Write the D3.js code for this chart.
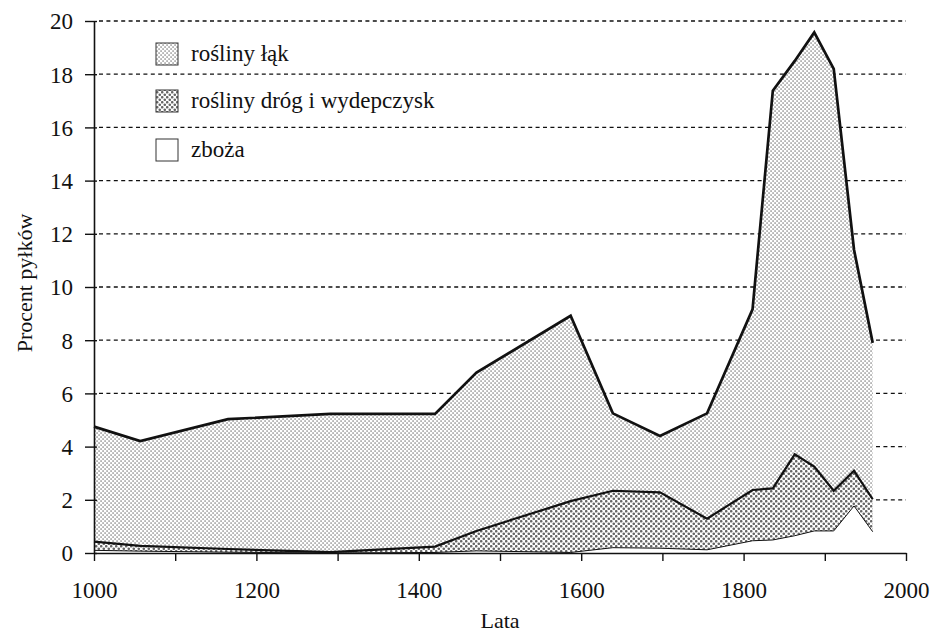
<!DOCTYPE html>
<meta charset="utf-8">
<style>
  body { margin: 0; background: #fff; }
  .grid line { stroke: #111; stroke-width: 1.3; stroke-dasharray: 4 3.4; }
</style>
<body>
<script src="https://d3js.org/d3.v7.min.js"></script>
<script>

const width = 931;
const height = 637;
const margin = {left: 94, right: 25, top: 21, bottom: 84};

const years = [1000, 1057, 1165, 1291, 1420, 1471, 1587, 1639, 1697, 1755, 1811, 1836, 1863, 1887, 1911, 1936, 1959];
const zboza = [0.10, 0.07, 0.03, 0.00, 0.02, 0.08, 0.02, 0.20, 0.18, 0.12, 0.46, 0.49, 0.65, 0.83, 0.83, 1.77, 0.80];
const drogi = [0.33, 0.20, 0.12, 0.03, 0.22, 0.75, 1.93, 2.14, 2.10, 1.17, 1.91, 1.94, 3.06, 2.42, 1.51, 1.32, 1.22];
const laki  = [4.32, 3.94, 4.88, 5.20, 4.99, 5.95, 6.97, 2.91, 2.12, 3.96, 6.79, 14.95, 14.79, 16.32, 15.86, 8.31, 5.88];

const seriesKeys = ["zboza", "drogi", "laki"];
const legendItems = [
  {key: "laki", label: "rośliny łąk"},
  {key: "drogi", label: "rośliny dróg i wydepczysk"},
  {key: "zboza", label: "zboża"}
];
const xTicks = d3.range(1000, 2001, 100);
const yTicks = d3.range(0, 21, 2);

const rows = years.map((yr, i) => ({year: yr, zboza: zboza[i], drogi: drogi[i], laki: laki[i]}));
const stacked = d3.stack().keys(seriesKeys)(rows);

const x = d3.scaleLinear().domain([1000, 2000]).range([margin.left, width - margin.right]);
const y = d3.scaleLinear().domain([0, 20]).range([height - margin.bottom, margin.top]);

const svg = d3.select("body").append("svg")
              .attr("width", width)
              .attr("height", height)
              .attr("font-family", "Liberation Serif");

const defs = svg.append("defs");

const pLaki = defs.append("pattern")
                  .attr("id", "p-laki")
                  .attr("patternUnits", "userSpaceOnUse")
                  .attr("width", 4).attr("height", 4);
pLaki.append("rect").attr("width", 4).attr("height", 4).attr("fill", "#fff");
pLaki.append("rect").attr("x", 0.5).attr("y", 0.5).attr("width", 1.1).attr("height", 1.1).attr("fill", "#333");
pLaki.append("rect").attr("x", 2.5).attr("y", 2.5).attr("width", 1.1).attr("height", 1.1).attr("fill", "#333");

const pDrogi = defs.append("pattern")
                   .attr("id", "p-drogi")
                   .attr("patternUnits", "userSpaceOnUse")
                   .attr("width", 5).attr("height", 5);
pDrogi.append("rect").attr("width", 5).attr("height", 5).attr("fill", "#fff");
pDrogi.append("circle").attr("cx", 1.25).attr("cy", 1.25).attr("r", 1.3).attr("fill", "#666");
pDrogi.append("circle").attr("cx", 3.75).attr("cy", 3.75).attr("r", 1.3).attr("fill", "#666");

const fills = {laki: "url(#p-laki)", drogi: "url(#p-drogi)", zboza: "#fff"};

// dashed grid lines
svg.append("g")
   .attr("class", "grid")
   .selectAll("line")
   .data(yTicks.filter(d => d > 0))
   .enter().append("line")
   .attr("x1", margin.left + 5)
   .attr("x2", width - margin.right)
   .attr("y1", d => y(d))
   .attr("y2", d => y(d));

const area = d3.area()
               .x(d => x(d.data.year))
               .y0(d => y(d[0]))
               .y1(d => y(d[1]));

svg.append("g")
   .selectAll("path")
   .data(stacked)
   .enter().append("path")
   .attr("d", area)
   .attr("fill", d => fills[d.key]);

const line = d3.line()
               .x(d => x(d.data.year))
               .y(d => y(d[1]));

const lineWidth = {zboza: 1, drogi: 2.2, laki: 2.7};
svg.append("g")
   .selectAll("path")
   .data(stacked)
   .enter().append("path")
   .attr("d", line)
   .attr("fill", "none")
   .attr("stroke", "#111")
   .attr("stroke-linejoin", "miter")
   .attr("stroke-width", d => lineWidth[d.key]);

// axes
const xAxis = svg.append("g")
                 .attr("transform", `translate(0,${y(0)})`)
                 .call(d3.axisBottom(x).tickValues(xTicks).tickSize(8).tickSizeOuter(0).tickFormat(d => d % 200 === 0 ? d : ""));
xAxis.attr("font-family", "Liberation Serif");
xAxis.select(".domain").attr("stroke", "#111").attr("stroke-width", 1.6);
xAxis.selectAll(".tick line").attr("stroke", "#111").attr("stroke-width", 1.4);
xAxis.selectAll("text")
     .attr("font-size", 23)
     .attr("fill", "#111")
     .attr("dy", null)
     .attr("y", 45);

const yAxis = svg.append("g")
                 .attr("transform", `translate(${x(1000)},0)`)
                 .call(d3.axisLeft(y).tickValues(yTicks).tickSize(9).tickSizeOuter(0));
yAxis.attr("font-family", "Liberation Serif");
yAxis.select(".domain").attr("stroke", "#111").attr("stroke-width", 1.6);
yAxis.selectAll(".tick line").attr("stroke", "#111").attr("stroke-width", 1.4).attr("x2", 3).attr("x1", -9);
yAxis.selectAll("text")
     .attr("font-size", 23)
     .attr("fill", "#111")
     .attr("x", -21)
     .attr("dy", "0.34em");

svg.append("text")
   .attr("x", (x(1000) + x(2000)) / 2)
   .attr("y", 628)
   .attr("text-anchor", "middle")
   .attr("font-size", 22)
   .attr("fill", "#111")
   .text("Lata");

svg.append("text")
   .attr("transform", `translate(32,${(y(0) + y(20)) / 2 - 4}) rotate(-90)`)
   .attr("text-anchor", "middle")
   .attr("font-size", 22)
   .attr("fill", "#111")
   .text("Procent pyłków");

// legend
const legend = svg.append("g")
                  .selectAll("g")
                  .data(legendItems)
                  .enter().append("g")
                  .attr("transform", (d, i) => `translate(156,${[54, 101, 150][i]})`);

legend.append("rect")
      .attr("x", 0).attr("y", -11)
      .attr("width", 22).attr("height", 22)
      .attr("fill", d => fills[d.key])
      .attr("stroke", "#333")
      .attr("stroke-width", 1);

legend.append("text")
      .attr("x", 35)
      .attr("y", 0)
      .attr("dy", "0.3em")
      .attr("font-size", 23)
      .attr("fill", "#111")
      .text(d => d.label);

</script>
</body>
